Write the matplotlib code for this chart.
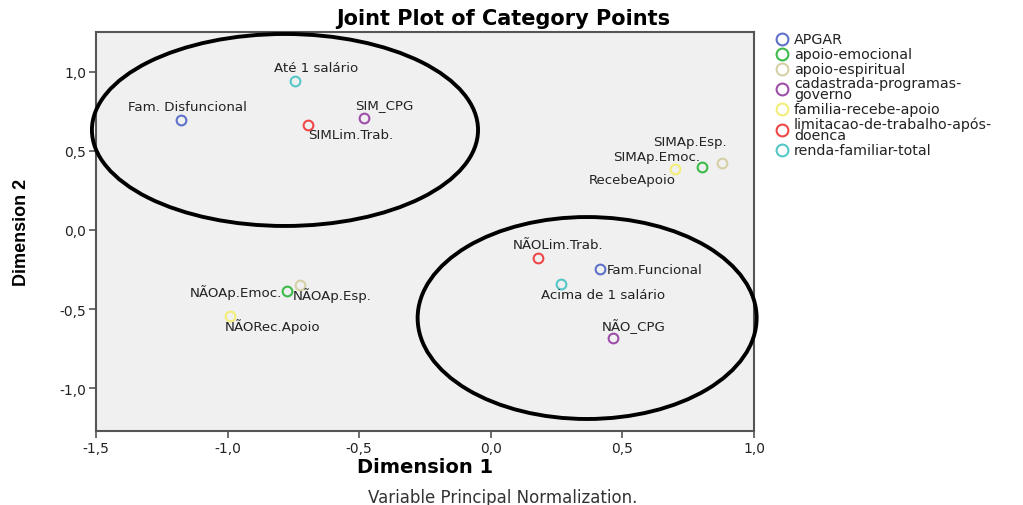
import matplotlib.pyplot as plt
from matplotlib.lines import Line2D
from matplotlib.patches import Ellipse
from matplotlib.ticker import FuncFormatter

plt.rcParams['font.family'] = ['DejaVu Sans']

W, H = 1023, 506

# variables (legend) and their colours
variables = ["APGAR", "apoio-emocional", "apoio-espiritual",
             "cadastrada-programas-\ngoverno", "familia-recebe-apoio",
             "limitacao-de-trabalho-após-\ndoenca", "renda-familiar-total"]
colors = ["#5F72C9", "#3DBB4A", "#D6D0A6", "#9E4FA9", "#F3EE78", "#EF4848", "#55C7C7"]

# category points
labels = ["Fam. Disfuncional", "Fam.Funcional",
          "SIMAp.Emoc.", "NÃOAp.Emoc.",
          "SIMAp.Esp.", "NÃOAp.Esp.",
          "SIM_CPG", "NÃO_CPG",
          "RecebeApoio", "NÃORec.Apoio",
          "SIMLim.Trab.", "NÃOLim.Trab.",
          "Até 1 salário", "Acima de 1 salário"]
dim1 = [-1.177, 0.415, 0.803, -0.774, 0.878, -0.725, -0.481, 0.465,
        0.700, -0.990, -0.695, 0.180, -0.744, 0.267]
dim2 = [0.696, -0.247, 0.399, -0.386, 0.424, -0.348, 0.709, -0.684,
        0.386, -0.544, 0.665, -0.177, 0.943, -0.342]
var_index = [0, 0, 1, 1, 2, 2, 3, 3, 4, 4, 5, 5, 6, 6]

# label offsets in pixels (dx, dy) and alignment
offsets = [(6, 14, "center"), (7, 0, "left"),
           (-45, 10, "center"), (-5, -1, "right"),
           (-32, 21, "center"), (-7, -10, "left"),
           (20, 13, "center"), (20, 13, "center"),
           (-43, -10, "center"), (42, -10, "center"),
           (43, -10, "center"), (20, 13, "center"),
           (21, 13, "center"), (42, -10, "center")]


def fig_xy(x, y):
    return x / W, 1 - y / H


fig = plt.figure(figsize=(W / 100, H / 100), dpi=100)
ax = fig.add_axes([96 / W, 1 - 432 / H, (754 - 96) / W, (432 - 33) / H])
ax.set_facecolor("#F0F0F0")

for x, y, lab, vi, (dx, dy, ha) in zip(dim1, dim2, labels, var_index, offsets):
    ax.plot(x, y, "o", mfc="none", mec=colors[vi], ms=7, mew=1.5, zorder=3)
    ax.annotate(lab, (x, y), xytext=(dx * 0.72, dy * 0.72), textcoords="offset points",
                ha=ha, va="center", fontsize=9.6, color="#222222")

ax.set_xlim(-1.5, 1.0)
ax.set_ylim(-1.272, 1.253)
ax.set_xticks([-1.5, -1.0, -0.5, 0.0, 0.5, 1.0])
ax.set_yticks([-1.0, -0.5, 0.0, 0.5, 1.0])
fmt = FuncFormatter(lambda v, p: f"{v:.1f}".replace(".", ","))
ax.xaxis.set_major_formatter(fmt)
ax.yaxis.set_major_formatter(fmt)
ax.tick_params(direction="out", length=5, width=1.2, color="#555555",
               labelsize=10, pad=2, labelcolor="#222222")
for s in ax.spines.values():
    s.set_color("#555555")
    s.set_linewidth(1.5)

# hand-drawn ellipses
ax.add_patch(Ellipse((-0.782, 0.633), 1.467, 1.215, fill=False, lw=2.8, ec="black",
                     clip_on=False, zorder=4))
ax.add_patch(Ellipse((0.366, -0.557), 1.288, 1.278, fill=False, lw=2.8, ec="black",
                     clip_on=False, zorder=4))

ax.set_xlabel("Dimension 1", fontsize=14, fontweight="bold", labelpad=2)
ax.set_ylabel("Dimension 2", fontsize=13, fontweight="bold", labelpad=21,
              family=["Liberation Sans Narrow", "Liberation Sans"])
fig.text(*fig_xy(503, 19), "Joint Plot of Category Points", ha="center",
         va="center", fontsize=15, fontweight="bold")
fig.text(*fig_xy(503, 498), "Variable Principal Normalization.", ha="center",
         va="center", fontsize=12, color="#333333")

# legend drawn by hand: marker column + text column
y = 40
for name, c in zip(variables, colors):
    n = name.count("\n") + 1
    yc = y + (n - 1) * 5.5
    fig.add_artist(Line2D([782 / W], [1 - yc / H], transform=fig.transFigure,
                          ls="none", marker="o", mfc="none", mec=c, ms=8.5, mew=1.5))
    fig.text(*fig_xy(794, yc), name, ha="left", va="center", fontsize=10.3,
             color="#222222", linespacing=0.72)
    y = yc + (n - 1) * 5.5 + 14.8

fig.savefig("out.png", dpi=100)
